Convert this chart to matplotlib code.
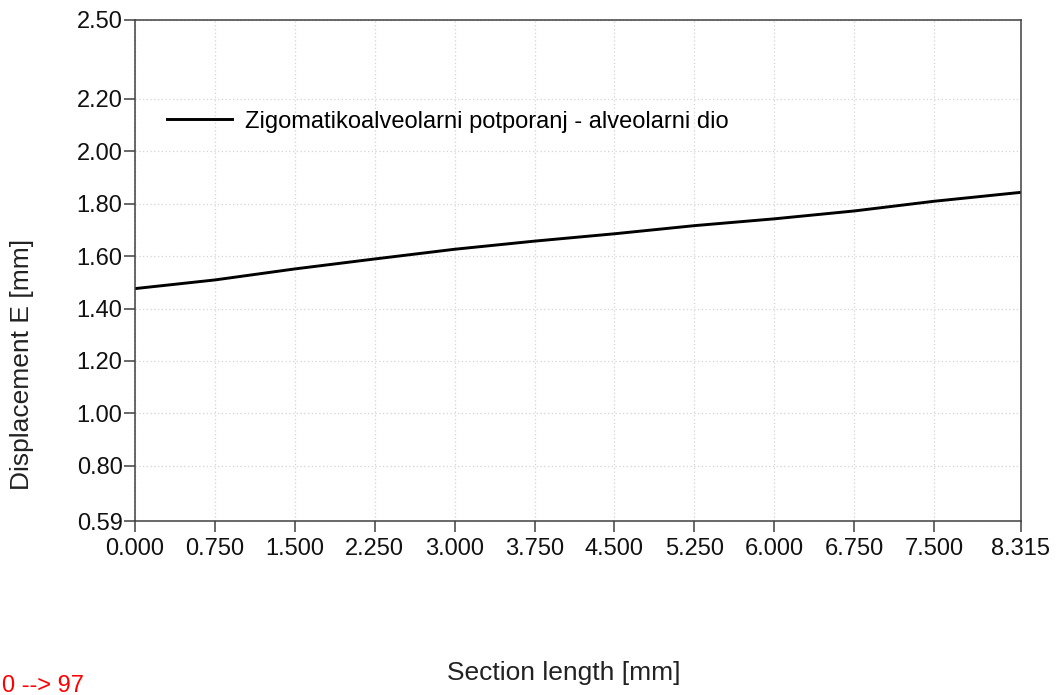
import matplotlib
matplotlib.use("Agg")
import matplotlib.pyplot as plt

plt.rcParams["font.family"] = ["Liberation Sans", "DejaVu Sans"]

# section positions [mm] and displacement E [mm]
section_mm = [0.0, 0.75, 1.5, 2.25, 3.0, 3.75, 4.5, 5.25, 6.0, 6.75, 7.5, 8.315]
displacement = [1.476, 1.509, 1.551, 1.589, 1.626, 1.657, 1.685, 1.716,
                1.742, 1.772, 1.809, 1.843]

x_ticks = [0.0, 0.75, 1.5, 2.25, 3.0, 3.75, 4.5, 5.25, 6.0, 6.75, 7.5, 8.315]
x_tick_labels = ["0.000", "0.750", "1.500", "2.250", "3.000", "3.750",
                 "4.500", "5.250", "6.000", "6.750", "7.500", "8.315"]
y_ticks = [0.59, 0.80, 1.00, 1.20, 1.40, 1.60, 1.80, 2.00, 2.20, 2.50]
y_tick_labels = ["0.59", "0.80", "1.00", "1.20", "1.40", "1.60", "1.80",
                 "2.00", "2.20", "2.50"]
series_name = "Zigomatikoalveolarni potporanj - alveolarni dio"

fig = plt.figure(figsize=(10.58, 6.95), dpi=100)
ax = fig.add_axes([135 / 1058, 1 - 521 / 695, 886 / 1058, 501 / 695])

ax.plot(section_mm, displacement, color="black", lw=2.1, label=series_name)

ax.set_xlim(0, 8.315)
ax.set_ylim(0.59, 2.50)
ax.set_xticks(x_ticks)
ax.set_xticklabels(x_tick_labels)
ax.set_yticks(y_ticks)
ax.set_yticklabels(y_tick_labels)
ax.tick_params(axis="both", direction="out", length=8, width=1.1,
               color="#404040", labelsize=17, labelcolor="#111111", pad=1)
ax.tick_params(axis="x", pad=4)
ax.grid(True, color="#d4d4d4", ls=(0, (1, 2)), lw=0.9)
for sp in ax.spines.values():
    sp.set_color("#404040")
    sp.set_linewidth(1.1)

ax.legend(loc="upper left", bbox_to_anchor=(0.025, 0.838), frameon=False,
          fontsize=17, handlelength=2.75, handletextpad=0.55,
          borderaxespad=0)

fig.text(564 / 1058, 1 - 673 / 695, "Section length [mm]", ha="center",
         va="center", fontsize=19, color="#222222")
fig.text(22 / 1058, 1 - 364 / 695, "Displacement E [mm]", ha="center",
         va="center", rotation=90, fontsize=19, color="#222222")
fig.text(2 / 1058, 1 - 686 / 695, "0 --> 97", ha="left", va="center",
         fontsize=17, color="red")

fig.savefig("out.png")
plt.close(fig)
